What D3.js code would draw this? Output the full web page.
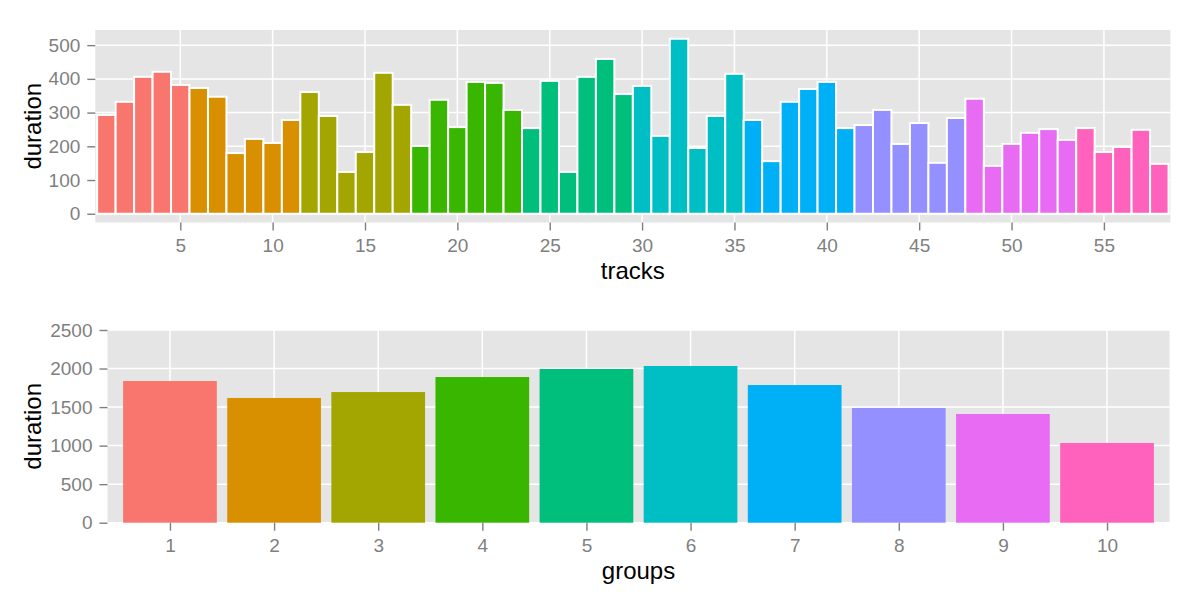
<!DOCTYPE html>
<html>
<head>
<meta charset="utf-8">
<script src="https://cdn.jsdelivr.net/npm/d3@7"></script>
<style>
  html, body { margin: 0; padding: 0; background: #ffffff; }
  svg { display: block; font-family: "Liberation Sans", Arial, Helvetica, sans-serif; }
</style>
</head>
<body>
<svg id="chart" width="1200" height="600"></svg>
<script>
// ---------- data ----------
const tracks = d3.range(1, 59);
const trackDurations = [
  293, 332, 406, 421, 382,
  373, 347, 180, 222, 210, 278,
  361, 290, 124, 183, 418, 323,
  201, 338, 257, 391, 388, 308,
  254, 394, 124, 406, 459, 355,
  379, 231, 519, 195, 290, 415,
  278, 156, 332, 370, 391, 254,
  263, 308, 207, 269, 151, 284,
  341, 142, 207, 240, 251, 219,
  254, 183, 198, 249, 148
];
const trackGroups = [
  1,1,1,1,1,
  2,2,2,2,2,2,
  3,3,3,3,3,3,
  4,4,4,4,4,4,
  5,5,5,5,5,5,
  6,6,6,6,6,6,
  7,7,7,7,7,7,
  8,8,8,8,8,8,
  9,9,9,9,9,9,
  10,10,10,10,10
];
const groups = [1,2,3,4,5,6,7,8,9,10];
const groupDurations = [1838, 1618, 1695, 1890, 1994, 2033, 1786, 1488, 1410, 1034];
const groupColors = ["#F8766D","#D89000","#A3A500","#39B600","#00BF7D","#00BFC4","#00B0F6","#9590FF","#E76BF3","#FF62BC"];
const trackTicks = [5,10,15,20,25,30,35,40,45,50,55];
const topYTicks = [0,100,200,300,400,500];
const bottomYTicks = [0,500,1000,1500,2000,2500];

// ---------- setup ----------
const svg = d3.select("#chart");
const color = d3.scaleOrdinal().domain(groups).range(groupColors);
const GRID = "#ffffff", PANEL = "#E5E5E5", AXIS = "#7F7F7F";
const tickFont = 19, titleFont = 24;

function drawPanel(cfg) {
  const g = svg.append("g");
  const {x, y, left, right, top, bottom} = cfg;
  g.append("rect").attr("x", left).attr("y", top)
    .attr("width", right - left).attr("height", bottom - top).attr("fill", PANEL);
  // gridlines
  g.selectAll(".hg").data(cfg.yTicks).join("line")
    .attr("x1", left).attr("x2", right)
    .attr("y1", d => y(d)).attr("y2", d => y(d))
    .attr("stroke", GRID).attr("stroke-width", 1.5);
  g.selectAll(".vg").data(cfg.xTicks).join("line")
    .attr("y1", top).attr("y2", bottom)
    .attr("x1", d => x(d)).attr("x2", d => x(d))
    .attr("stroke", GRID).attr("stroke-width", 1.5);
  // bars
  cfg.drawBars(g);
  // y axis
  const ya = g.append("g").attr("transform", `translate(${left},0)`)
    .call(d3.axisLeft(y).tickValues(cfg.yTicks).tickSize(8).tickPadding(7).tickFormat(d3.format("d")));
  ya.select(".domain").remove();
  ya.selectAll(".tick line").attr("stroke", AXIS).attr("stroke-width", 1.4);
  ya.selectAll(".tick text").attr("fill", AXIS).attr("font-size", tickFont)
    .attr("font-family", "Liberation Sans, Arial, sans-serif");
  // x axis
  const xa = g.append("g").attr("transform", `translate(0,${bottom})`)
    .call(d3.axisBottom(x).tickValues(cfg.xTicks).tickSize(8).tickPadding(8).tickFormat(d3.format("d")));
  xa.select(".domain").remove();
  xa.selectAll(".tick line").attr("stroke", AXIS).attr("stroke-width", 1.4);
  xa.selectAll(".tick text").attr("fill", AXIS).attr("font-size", tickFont)
    .attr("font-family", "Liberation Sans, Arial, sans-serif");
  // titles
  g.append("text").attr("x", (left + right) / 2).attr("y", bottom + 56)
    .attr("text-anchor", "middle").attr("font-size", titleFont).attr("fill", "#000")
    .text(cfg.xTitle);
  g.append("text").attr("transform", `translate(41,${(top + bottom) / 2}) rotate(-90)`)
    .attr("text-anchor", "middle").attr("font-size", titleFont).attr("fill", "#000")
    .text("duration");
}

// ---------- top panel ----------
(function () {
  const left = 95.3, right = 1170.4, top = 30, bottom = 222.5;
  const maxV = d3.max(trackDurations);
  const x = d3.scaleLinear().domain([0.4, 58.6]).range([left, right]);
  const y = d3.scaleLinear().domain([-0.05 * maxV, 1.05 * maxV]).range([bottom, top]);
  drawPanel({
    x, y, left, right, top, bottom,
    xTicks: trackTicks, yTicks: topYTicks, xTitle: "tracks",
    drawBars: g => {
      g.selectAll(".tb").data(tracks).join("rect")
        .attr("x", (d) => x(d - 0.5))
        .attr("width", x(1.5) - x(0.5))
        .attr("y", (d, i) => y(trackDurations[i]))
        .attr("height", (d, i) => y(0) - y(trackDurations[i]))
        .attr("fill", (d, i) => color(trackGroups[i]))
        .attr("stroke", "#ffffff").attr("stroke-width", 2);
    }
  });
})();

// ---------- bottom panel ----------
(function () {
  const left = 107.5, right = 1169.5, top = 330, bottom = 522.7;
  const x = d3.scaleLinear().domain([0.4, 10.6]).range([left, right]);
  const y = d3.scaleLinear().domain([0, 2500]).range([bottom, top]);
  drawPanel({
    x, y, left, right, top, bottom,
    xTicks: groups, yTicks: bottomYTicks, xTitle: "groups",
    drawBars: g => {
      g.selectAll(".gb").data(groups).join("rect")
        .attr("x", d => x(d - 0.45))
        .attr("width", x(1.45) - x(0.55))
        .attr("y", (d, i) => y(groupDurations[i]))
        .attr("height", (d, i) => y(0) - y(groupDurations[i]))
        .attr("fill", d => color(d));
    }
  });
})();
</script>
</body>
</html>
